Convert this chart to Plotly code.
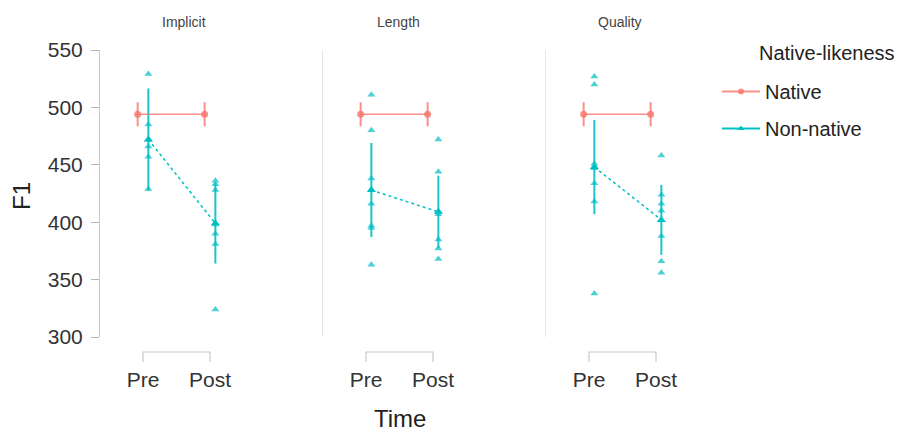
import plotly.graph_objects as go

# ---- data -------------------------------------------------------------
facets = ["Implicit", "Length", "Quality"]
time_labels = ["Pre", "Post"]
time_pos = [1, 2]

# Native speakers: mean F1 and error half-width per facet, per time
native_mean = [[494, 494], [494, 494], [494, 494]]
native_err = [[10.5, 10.5], [10.5, 10.5], [10.5, 10.5]]

# Non-native speakers: mean F1 and error half-width per facet, per time
nonnative_mean = [[472, 399], [428, 409], [448, 402]]
nonnative_err = [[44.5, 35], [41, 31.5], [41, 30.5]]

# Non-native individual F1 values
implicit_pre = [529, 485, 472, 466, 457, 429]
implicit_post = [436, 433, 428, 398, 390, 381, 324]
length_pre = [511, 480, 438, 416, 397, 395, 363]
length_post = [472, 444, 409, 407, 385, 377, 368]
quality_pre = [527, 520, 451, 447, 434, 418, 338]
quality_post = [458, 424, 416, 410, 388, 366, 356]
individual = [
    [implicit_pre, implicit_post],
    [length_pre, length_post],
    [quality_pre, quality_post],
]

y_ticks = [300, 350, 400, 450, 500, 550]

# ---- styling ----------------------------------------------------------
RED = "rgba(248,118,109,0.8)"
TEAL = "#00BFC4"
TEAL_A = "rgba(0,191,196,0.7)"
FONT = "Liberation Sans"
DODGE = 0.08

W, H = 905, 430
L, R, T, B = 100, 193, 50, 93
plot_w = W - L - R
plot_h = H - T - B
panel_w = 166
panel_step = 223

fig = go.Figure()

for i, facet in enumerate(facets):
    xa = "x" if i == 0 else f"x{i + 1}"
    ya = "y" if i == 0 else f"y{i + 1}"

    # individual non-native points
    for t, vals in zip(time_pos, individual[i]):
        fig.add_trace(go.Scatter(
            x=[t + DODGE] * len(vals), y=vals, mode="markers",
            marker=dict(symbol="triangle-up", size=7, color=TEAL_A),
            xaxis=xa, yaxis=ya, showlegend=False, hoverinfo="y"))

    # non-native means with error bars and dotted connector
    fig.add_trace(go.Scatter(
        x=[t + DODGE for t in time_pos], y=nonnative_mean[i],
        mode="lines+markers",
        line=dict(color=TEAL, width=1.5, dash="dot"),
        marker=dict(symbol="triangle-up", size=8, color=TEAL),
        error_y=dict(type="data", array=nonnative_err[i], width=0,
                     thickness=2, color="rgba(0,191,196,0.9)"),
        xaxis=xa, yaxis=ya, showlegend=False))

    # native means with error bars
    fig.add_trace(go.Scatter(
        x=[t - DODGE for t in time_pos], y=native_mean[i],
        mode="lines+markers",
        line=dict(color=RED, width=1.5),
        marker=dict(symbol="circle", size=7, color=RED),
        error_y=dict(type="data", array=native_err[i], width=0,
                     thickness=2, color=RED),
        xaxis=xa, yaxis=ya, showlegend=False))

# legend entries
fig.add_trace(go.Scatter(
    x=[None], y=[None], mode="lines+markers", name="Native",
    line=dict(color=RED, width=2), marker=dict(symbol="circle", size=6, color=RED),
    legendgroup="a"))
fig.add_trace(go.Scatter(
    x=[None], y=[None], mode="lines+markers", name="Non-native",
    line=dict(color=TEAL, width=2), marker=dict(symbol="triangle-up", size=6, color=TEAL),
    legendgroup="b"))

# ---- axes -------------------------------------------------------------
x_lo = 1 - 43 / 67
x_hi = x_lo + panel_w / 67
shapes = []
annotations = []
y_br = -(352 - (H - B)) / plot_h
y_br_tick = -(362 - (H - B)) / plot_h
facet_label_x = [184, 398, 620]

for i, facet in enumerate(facets):
    x0 = (i * panel_step) / plot_w
    x1 = (i * panel_step + panel_w) / plot_w
    xkey = "xaxis" if i == 0 else f"xaxis{i + 1}"
    ykey = "yaxis" if i == 0 else f"yaxis{i + 1}"
    xref = "x" if i == 0 else f"x{i + 1}"
    yanchor = "y" if i == 0 else f"y{i + 1}"
    fig.layout[xkey] = dict(
        domain=[x0, min(x1, 1)], range=[x_lo, x_hi], anchor=yanchor,
        tickvals=time_pos, ticktext=time_labels,
        ticks="outside", ticklen=24, tickcolor="rgba(0,0,0,0)",
        showline=False, showgrid=False, zeroline=False,
        tickfont=dict(family=FONT, size=21, color="#333333"))
    if i == 0:
        fig.layout[ykey] = dict(
            range=[300, 550], tickvals=y_ticks, anchor=xref,
            ticks="outside", ticklen=8, tickcolor="#b5b5b5", tickwidth=1,
            ticklabelstandoff=4,
            showline=True, linecolor="#c8c8c8", linewidth=1,
            showgrid=False, zeroline=False,
            tickfont=dict(family=FONT, size=21, color="#333333"))
    else:
        fig.layout[ykey] = dict(
            range=[300, 550], matches="y", anchor=xref,
            showticklabels=False, ticks="",
            showline=True, linecolor="#e6e6e6", linewidth=1,
            showgrid=False, zeroline=False)

    # bracket-style capped x axis
    shapes.append(dict(
        type="path", xref=xref, yref="paper",
        path=f"M {time_pos[0]},{y_br_tick} L {time_pos[0]},{y_br} "
             f"L {time_pos[1]},{y_br} L {time_pos[1]},{y_br_tick}",
        line=dict(color="#c8c8c8", width=1.2)))

    annotations.append(dict(
        text=facet, xref="paper", yref="paper",
        x=(facet_label_x[i] - L) / plot_w, y=(H - B - 22) / plot_h,
        xanchor="center", yanchor="middle", showarrow=False,
        font=dict(family=FONT, size=14, color="#444444")))

annotations.append(dict(
    text="Time", xref="paper", yref="paper",
    x=(400 - L) / plot_w, y=-(418 - (H - B)) / plot_h,
    xanchor="center", yanchor="middle", showarrow=False, height=22,
    font=dict(family=FONT, size=24, color="#222222")))
annotations.append(dict(
    text="F1", xref="paper", yref="paper",
    x=(21 - L) / plot_w, y=((H - B) - 196) / plot_h,
    xanchor="center", yanchor="middle", showarrow=False, textangle=-90,
    font=dict(family=FONT, size=24, color="#222222")))
annotations.append(dict(
    text="Native-likeness", xref="paper", yref="paper",
    x=(757 - L) / plot_w, y=((H - B) - 53) / plot_h,
    xanchor="left", yanchor="middle", showarrow=False,
    font=dict(family=FONT, size=20, color="#222222")))

fig.update_layout(
    width=W, height=H,
    margin=dict(l=L, r=R, t=T, b=B),
    paper_bgcolor="white", plot_bgcolor="white",
    shapes=shapes, annotations=annotations,
    showlegend=True,
    legend=dict(
        x=(717 - L) / plot_w, y=((H - B) - 72) / plot_h,
        xanchor="left", yanchor="top", tracegroupgap=8, itemwidth=38,
        font=dict(family=FONT, size=20, color="#222222"),
        bgcolor="rgba(0,0,0,0)"),
)

fig.write_html("out.html")
